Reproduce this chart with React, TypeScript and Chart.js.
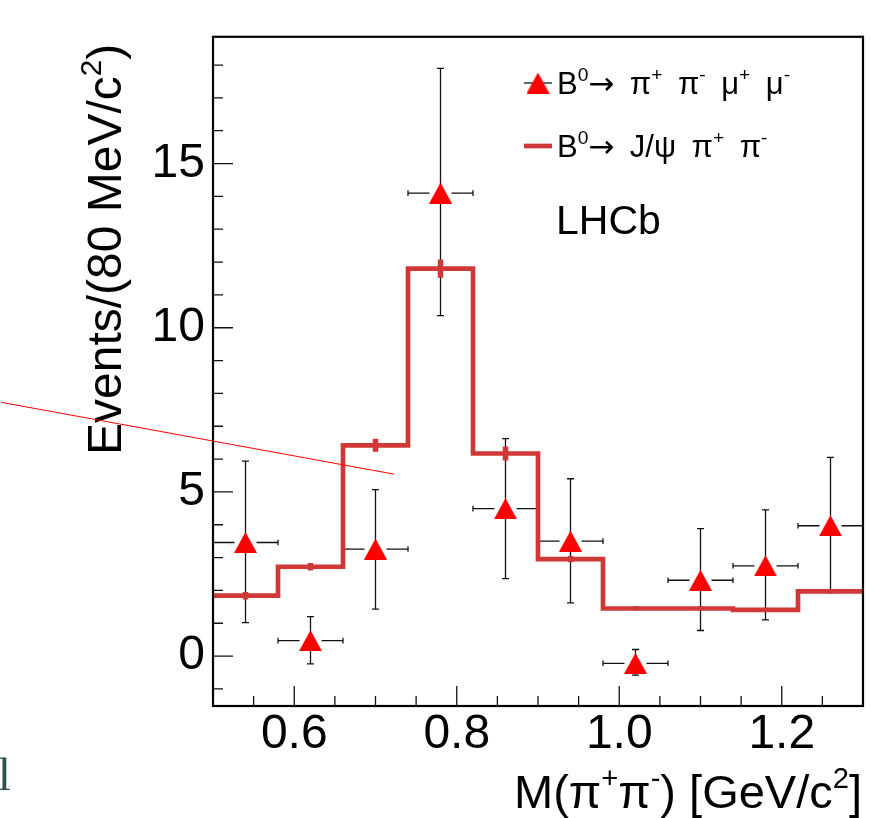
import React, { useEffect, useRef } from 'react';
import { Chart, registerables } from 'chart.js';

Chart.register(...registerables);

// ---------- data ----------
const binCenters = [0.54, 0.62, 0.70, 0.78, 0.86, 0.94, 1.02, 1.10, 1.18, 1.26];
const binHalfWidth = 0.04;

// B0 -> pi+ pi- mu+ mu- (data points)
const dataValues = [3.46, 0.47, 3.26, 14.1, 4.49, 3.5, -0.22, 2.31, 2.75, 3.97];
const dataErrUp = [2.48, 0.73, 1.81, 3.8, 2.13, 1.9, 0.42, 1.57, 1.7, 2.08];
const dataErrDown = [2.44, 0.71, 1.83, 3.73, 2.13, 1.88, 0.36, 1.53, 1.65, 2.02];

// B0 -> J/psi pi+ pi- (histogram)
const histValues = [1.84, 2.72, 6.42, 11.8, 6.17, 2.95, 1.45, 1.45, 1.41, 1.97];
const histErrors = [0.1, 0.1, 0.18, 0.26, 0.2, 0.08, 0.05, 0.05, 0.05, 0.06];

// ticks
const xMajorTicks = [0.6, 0.8, 1.0, 1.2];
const xMinorTicks = [0.55, 0.65, 0.7, 0.75, 0.85, 0.9, 0.95, 1.05, 1.1, 1.15, 1.25];
const yMajorTicks = [0, 5, 10, 15];
const yMinorTicks = [-1, 1, 2, 3, 4, 6, 7, 8, 9, 11, 12, 13, 14, 16, 17, 18];

// stray annotation line (in axis units)
const strayLineStart = { x: 0.239, y: 7.73 };
const strayLineEnd = { x: 0.723, y: 5.54 };

const X_MIN = 0.5;
const X_MAX = 1.3;
const Y_MIN = -1.52;
const Y_MAX = 18.86;

const SANS = '"Liberation Sans", Arial, Helvetica, sans-serif';
const ARROW_FONT = '"DejaVu Sans", sans-serif';
const HIST_COLOR = 'rgb(208,56,56)';
const MARKER_COLOR = '#ff0000';

type Seg = { t: string; sup?: boolean; arrow?: boolean };

function segFont(s: Seg, size: number) {
  if (s.arrow) return `${size}px ${ARROW_FONT}`;
  return `${s.sup ? size * 0.62 : size}px ${SANS}`;
}

function richWidth(ctx: CanvasRenderingContext2D, segs: Seg[], size: number) {
  let w = 0;
  for (const s of segs) {
    ctx.font = segFont(s, size);
    w += ctx.measureText(s.t).width;
  }
  return w;
}

function drawRich(ctx: CanvasRenderingContext2D, segs: Seg[], x: number, y: number, size: number) {
  let cx = x;
  for (const s of segs) {
    ctx.font = segFont(s, size);
    const dy = s.sup ? -size * 0.42 : 0;
    ctx.fillText(s.t, cx, y + dy);
    cx += ctx.measureText(s.t).width;
  }
}

const SP = '\u2002';
const legendRow1: Seg[] = [
  { t: 'B' }, { t: '0', sup: true }, { t: '\u2192', arrow: true }, { t: SP + '\u03c0' }, { t: '+', sup: true },
  { t: SP + '\u03c0' }, { t: '-', sup: true }, { t: SP + '\u03bc' }, { t: '+', sup: true },
  { t: SP + '\u03bc' }, { t: '-', sup: true },
];
const legendRow2: Seg[] = [
  { t: 'B' }, { t: '0', sup: true }, { t: '\u2192', arrow: true }, { t: SP + 'J/\u03c8' + SP + '\u03c0' }, { t: '+', sup: true },
  { t: SP + '\u03c0' }, { t: '-', sup: true },
];
const yTitle: Seg[] = [{ t: 'Events/(80 MeV/c' }, { t: '2', sup: true }, { t: ')' }];
const xTitle: Seg[] = [
  { t: 'M(\u03c0' }, { t: '+', sup: true }, { t: '\u03c0' }, { t: '-', sup: true },
  { t: ') [GeV/c' }, { t: '2', sup: true }, { t: ']' },
];

export default function App() {
  const ref = useRef<HTMLCanvasElement | null>(null);

  useEffect(() => {
    const canvas = ref.current;
    if (!canvas) return;

    // triangle marker, centred on its bounding box (ROOT style)
    const tri = document.createElement('canvas');
    tri.width = 23;
    tri.height = 21;
    const tctx = tri.getContext('2d')!;
    tctx.fillStyle = MARKER_COLOR;
    tctx.beginPath();
    tctx.moveTo(11.5, 0);
    tctx.lineTo(23, 21);
    tctx.lineTo(0, 21);
    tctx.closePath();
    tctx.fill();

    const histPoints: { x: number; y: number }[] = [];
    binCenters.forEach((c, i) => {
      histPoints.push({ x: c - binHalfWidth, y: histValues[i] });
      histPoints.push({ x: c + binHalfWidth, y: histValues[i] });
    });

    const decorPlugin = {
      id: 'decor',
      beforeDatasetsDraw(chart: any) {
        const ctx: CanvasRenderingContext2D = chart.ctx;
        const xs = chart.scales.x;
        const ys = chart.scales.y;
        const area = chart.chartArea;
        ctx.save();
        ctx.beginPath();
        ctx.rect(area.left, area.top, area.right - area.left, area.bottom - area.top);
        ctx.clip();
        // data error bars
        ctx.strokeStyle = '#111';
        ctx.lineWidth = 1.3;
        binCenters.forEach((c, i) => {
          const px = xs.getPixelForValue(c);
          const py = ys.getPixelForValue(dataValues[i]);
          const top = ys.getPixelForValue(dataValues[i] + dataErrUp[i]);
          const bot = ys.getPixelForValue(dataValues[i] - dataErrDown[i]);
          const lft = xs.getPixelForValue(c - binHalfWidth);
          const rgt = xs.getPixelForValue(c + binHalfWidth);
          ctx.beginPath();
          ctx.moveTo(px, top);
          ctx.lineTo(px, bot);
          ctx.moveTo(px - 3.5, top);
          ctx.lineTo(px + 3.5, top);
          ctx.moveTo(px - 3.5, bot);
          ctx.lineTo(px + 3.5, bot);
          ctx.moveTo(lft, py);
          ctx.lineTo(px - 11, py);
          ctx.moveTo(px + 11, py);
          ctx.lineTo(rgt, py);
          ctx.moveTo(lft, py - 2.8);
          ctx.lineTo(lft, py + 2.8);
          ctx.moveTo(rgt, py - 2.8);
          ctx.lineTo(rgt, py + 2.8);
          ctx.stroke();
        });
        // histogram error marks
        ctx.strokeStyle = HIST_COLOR;
        ctx.lineWidth = 5.5;
        binCenters.forEach((c, i) => {
          const px = xs.getPixelForValue(c);
          const top = ys.getPixelForValue(histValues[i] + histErrors[i]);
          const bot = ys.getPixelForValue(histValues[i] - histErrors[i]);
          ctx.beginPath();
          ctx.moveTo(px, top - 0.5);
          ctx.lineTo(px, bot + 0.5);
          ctx.stroke();
        });
        ctx.restore();
      },
      afterDraw(chart: any) {
        const ctx: CanvasRenderingContext2D = chart.ctx;
        const xs = chart.scales.x;
        const ys = chart.scales.y;
        const area = chart.chartArea;
        ctx.save();
        // frame
        ctx.strokeStyle = '#000';
        ctx.lineWidth = 2.2;
        ctx.strokeRect(area.left, area.top, area.right - area.left, area.bottom - area.top);
        // ticks (inside)
        ctx.lineWidth = 1.3;
        ctx.strokeStyle = '#111';
        ctx.beginPath();
        yMajorTicks.forEach((v) => {
          const p = ys.getPixelForValue(v);
          ctx.moveTo(area.left, p);
          ctx.lineTo(area.left + 20, p);
        });
        yMinorTicks.forEach((v) => {
          const p = ys.getPixelForValue(v);
          ctx.moveTo(area.left, p);
          ctx.lineTo(area.left + 10, p);
        });
        xMajorTicks.forEach((v) => {
          const p = xs.getPixelForValue(v);
          ctx.moveTo(p, area.bottom);
          ctx.lineTo(p, area.bottom - 20);
        });
        xMinorTicks.forEach((v) => {
          const p = xs.getPixelForValue(v);
          ctx.moveTo(p, area.bottom);
          ctx.lineTo(p, area.bottom - 10);
        });
        ctx.stroke();

        // axis titles
        ctx.fillStyle = '#000';
        ctx.textBaseline = 'alphabetic';
        ctx.textAlign = 'left';
        ctx.save();
        ctx.translate(121, 455);
        ctx.rotate(-Math.PI / 2);
        drawRich(ctx, yTitle, 0, 0, 48);
        ctx.restore();
        const xw = richWidth(ctx, xTitle, 47);
        drawRich(ctx, xTitle, 862 - xw, 808, 47);

        // legend
        ctx.strokeStyle = '#111';
        ctx.lineWidth = 1.3;
        ctx.beginPath();
        ctx.moveTo(524, 83);
        ctx.lineTo(552, 83);
        ctx.stroke();
        ctx.drawImage(tri, 538 - 11.5, 83 - 10.5);
        ctx.strokeStyle = HIST_COLOR;
        ctx.lineWidth = 4.7;
        ctx.beginPath();
        ctx.moveTo(524, 146);
        ctx.lineTo(552, 146);
        ctx.stroke();
        ctx.fillStyle = '#000';
        drawRich(ctx, legendRow1, 557, 94, 31);
        drawRich(ctx, legendRow2, 557, 157, 31);
        ctx.font = `41px ${SANS}`;
        ctx.fillText('LHCb', 556, 234);

        // stray annotation line
        ctx.strokeStyle = '#ff0000';
        ctx.lineWidth = 1;
        ctx.beginPath();
        ctx.moveTo(xs.getPixelForValue(strayLineStart.x), ys.getPixelForValue(strayLineStart.y));
        ctx.lineTo(xs.getPixelForValue(strayLineEnd.x), ys.getPixelForValue(strayLineEnd.y));
        ctx.stroke();

        // cut-off text at bottom-left
        ctx.fillStyle = '#2f4f4f';
        ctx.font = '46px "Liberation Serif", "Times New Roman", serif';
        ctx.fillText('l', -2, 790);
        ctx.restore();
      },
    };

    const chart = new Chart(canvas, {
      type: 'scatter',
      data: {
        datasets: [
          {
            label: 'B0 -> pi+ pi- mu+ mu-',
            data: binCenters.map((c, i) => ({ x: c, y: dataValues[i] })),
            pointStyle: tri as any,
            pointRadius: 11,
            pointHoverRadius: 11,
            backgroundColor: MARKER_COLOR,
            borderColor: MARKER_COLOR,
            order: 0,
          },
          {
            label: 'B0 -> J/psi pi+ pi-',
            data: histPoints,
            showLine: true,
            borderColor: HIST_COLOR,
            borderWidth: 4.7,
            pointRadius: 0,
            pointHoverRadius: 0,
            fill: false,
            tension: 0,
            borderJoinStyle: 'miter',
            borderCapStyle: 'butt',
            order: 1,
          } as any,
        ],
      },
      options: {
        responsive: false,
        animation: false,
        devicePixelRatio: 1,
        events: [],
        layout: { padding: { top: 36, right: 14, left: 0, bottom: 0 } },
        plugins: { legend: { display: false }, tooltip: { enabled: false } },
        scales: {
          x: {
            type: 'linear',
            min: X_MIN,
            max: X_MAX,
            grid: { display: false, drawTicks: false },
            border: { display: false },
            afterBuildTicks: (s: any) => {
              s.ticks = xMajorTicks.map((v) => ({ value: v }));
            },
            afterFit: (s: any) => {
              s.height = 112;
            },
            ticks: {
              autoSkip: false,
              maxRotation: 0,
              minRotation: 0,
              padding: 0,
              color: '#000',
              font: { family: SANS, size: 48 },
              callback: (v: any) => Number(v).toFixed(1),
            },
          },
          y: {
            type: 'linear',
            min: Y_MIN,
            max: Y_MAX,
            grid: { display: false, drawTicks: false },
            border: { display: false },
            afterBuildTicks: (s: any) => {
              s.ticks = yMajorTicks.map((v) => ({ value: v }));
            },
            afterFit: (s: any) => {
              s.width = 213;
            },
            ticks: {
              autoSkip: false,
              padding: 8,
              color: '#000',
              font: { family: SANS, size: 48 },
              callback: (v: any) => String(v),
            },
          },
        },
      },
      plugins: [decorPlugin],
    });

    return () => chart.destroy();
  }, []);

  return (
    <div style={{ position: 'fixed', left: 0, top: 0, width: 877, height: 818, background: '#fff' }}>
      <canvas ref={ref} width={877} height={818} style={{ display: 'block' }} />
    </div>
  );
}
